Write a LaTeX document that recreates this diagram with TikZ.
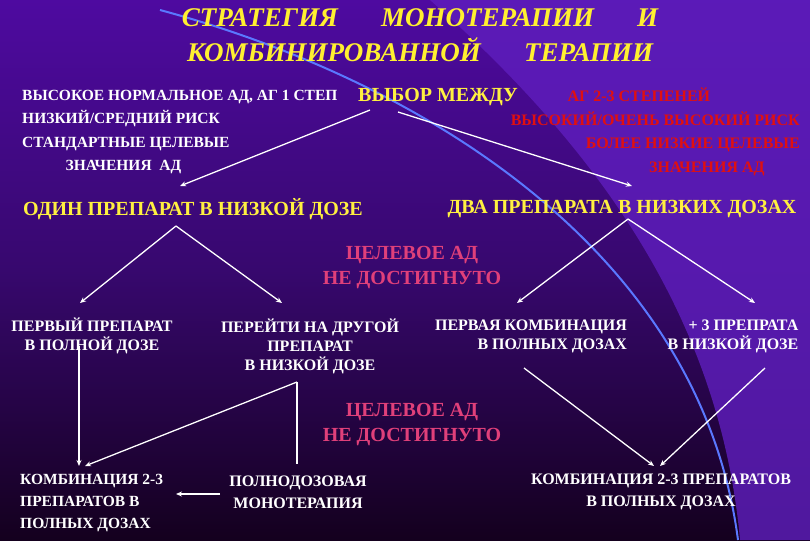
\documentclass[tikz,border=0pt]{standalone}
\usepackage{fontspec}
\setmainfont{Liberation Serif}
\usetikzlibrary{arrows.meta}
\definecolor{ttl}{HTML}{FFF030}
\definecolor{ylw}{HTML}{FFF040}
\definecolor{rd}{HTML}{E01010}
\definecolor{pk}{HTML}{E0407A}
\definecolor{bgtop}{RGB}{78,10,160}
\definecolor{bgmid}{RGB}{55,8,110}
\definecolor{bgbot}{RGB}{20,0,30}
\definecolor{rside}{RGB}{95,30,190}
\definecolor{arcb}{RGB}{90,120,255}
\begin{document}
\begin{tikzpicture}[x=1pt,y=-1pt,
  wt/.style={text=white,font=\bfseries\fontsize{16}{19}\selectfont,align=center,inner sep=0},
  lt/.style={wt,font=\bfseries\fontsize{15.5}{23.5}\selectfont,align=left},
  yl/.style={text=ylw,font=\bfseries\fontsize{20}{22}\selectfont,inner sep=0},
  rt/.style={text=rd,font=\bfseries\fontsize{16}{23.5}\selectfont,align=right,inner sep=0},
  pt/.style={text=pk,font=\bfseries\fontsize{20}{25}\selectfont,align=center,inner sep=0},
  ar/.style={draw=white,line width=1.3pt,-{Stealth[length=6pt,width=5pt]}},
  ln/.style={draw=white,line width=1.3pt}]
\useasboundingbox (0,0) rectangle (810,540);
\shade[top color=bgtop,bottom color=bgbot,middle color=bgmid] (0,0) rectangle (810,540);
\fill[rside,opacity=0.8] (430,0) .. controls (600,150) and (720,320) .. (740,540) -- (810,540) -- (810,0) -- cycle;
\draw[arcb,line width=2pt] (160,10) .. controls (420,80) and (700,250) .. (738,540);
% title
\node[text=ttl,font=\bfseries\itshape\fontsize{27}{32}\selectfont,inner sep=0] (t1) at (420,18) {СТРАТЕГИЯ\hspace{1.6em}МОНОТЕРАПИИ\hspace{1.6em}И};
\node[text=ttl,font=\bfseries\itshape\fontsize{27}{32}\selectfont,inner sep=0] (t2) at (420,50) {КОМБИНИРОВАННОЙ\hspace{1.6em}ТЕРАПИИ};
% top row
\node[lt,anchor=north west] (hl) at (22,90) {ВЫСОКОЕ НОРМАЛЬНОЕ АД, АГ 1 СТЕП\\НИЗКИЙ/СРЕДНИЙ РИСК\\СТАНДАРТНЫЕ ЦЕЛЕВЫЕ\\\hspace*{2.8em}ЗНАЧЕНИЯ\ \ АД};
\node[yl,anchor=west] (ch) at (358,97) {ВЫБОР МЕЖДУ};
\node[rt,anchor=north east] (hr) at (800,88) {АГ 2-3 СТЕПЕНЕЙ\hspace*{5.6em}\\ВЫСОКИЙ/ОЧЕНЬ ВЫСОКИЙ РИСК\\БОЛЕЕ НИЗКИЕ ЦЕЛЕВЫЕ\\ЗНАЧЕНИЯ АД\hspace*{2.2em}};
% second row
\node[yl] (one) at (193,209) {ОДИН ПРЕПАРАТ В НИЗКОЙ ДОЗЕ};
\node[yl] (two) at (622,209) {ДВА ПРЕПАРАТА В НИЗКИХ ДОЗАХ};
\node[pt] (g1) at (412,268) {ЦЕЛЕВОЕ АД\\НЕ ДОСТИГНУТО};
% third row
\node[wt] (a1) at (92,336) {ПЕРВЫЙ ПРЕПАРАТ\\В ПОЛНОЙ ДОЗЕ};
\node[wt] (a2) at (310,346) {ПЕРЕЙТИ НА ДРУГОЙ\\ПРЕПАРАТ\\В НИЗКОЙ ДОЗЕ};
\node[wt,align=right] (a3) at (531,336) {ПЕРВАЯ КОМБИНАЦИЯ\\В ПОЛНЫХ ДОЗАХ};
\node[wt,align=right] (a4) at (733,336) {+ 3 ПРЕПРАТА\\В НИЗКОЙ ДОЗЕ};
\node[pt] (g2) at (412,425) {ЦЕЛЕВОЕ АД\\НЕ ДОСТИГНУТО};
% bottom
\node[wt,align=left,font=\bfseries\fontsize{15.5}{22}\selectfont,anchor=north west] (b1) at (20,474) {КОМБИНАЦИЯ 2-3\\ПРЕПАРАТОВ В\\ПОЛНЫХ ДОЗАХ};
\node[wt,font=\bfseries\fontsize{16}{22}\selectfont] (b2) at (298,492) {ПОЛНОДОЗОВАЯ\\МОНОТЕРАПИЯ};
\node[wt,font=\bfseries\fontsize{16}{22}\selectfont] (b3) at (661,492) {КОМБИНАЦИЯ 2-3 ПРЕПАРАТОВ\\В ПОЛНЫХ ДОЗАХ};
% arrows
\coordinate (c1) at (370,110); \coordinate (c2) at (398,112);
\draw[ar] (c1) -- (180,186);
\draw[ar] (c2) -- (632,186);
\coordinate (o) at (176,226); \coordinate (w) at (628,219);
\draw[ar] (o) -- (80,303);
\draw[ar] (o) -- (282,303);
\draw[ar] (w) -- (517,303);
\draw[ar] (w) -- (755,303);
\coordinate (p) at (297,382); \coordinate (q) at (79,346);
\draw[ar] (q) -- (79,466);
\draw[ar] (p) -- (85,466);
\draw[ln] (p) -- (297,464);
\draw[ar] (220,494) -- (176,494);
\draw[ar] (524,368) -- (654,466);
\draw[ar] (765,368) -- (660,466);
\end{tikzpicture}
\end{document}
